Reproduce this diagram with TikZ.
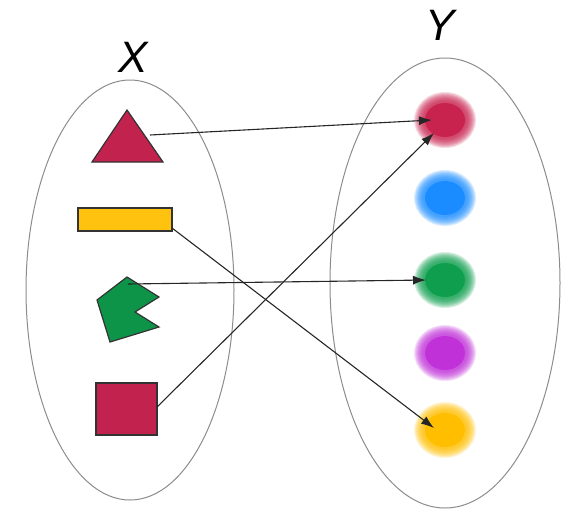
\documentclass[tikz,border=0pt]{standalone}
\usepackage{fontspec}
\setmainfont{Liberation Sans}
\usetikzlibrary{arrows.meta}
\definecolor{crim}{HTML}{C2224E}
\definecolor{gold}{HTML}{FFC20E}
\definecolor{grn}{HTML}{0E9448}
\definecolor{dotred}{HTML}{C8234F}
\definecolor{dotblue}{HTML}{1A8CFF}
\definecolor{dotgreen}{HTML}{0E9E4E}
\definecolor{dotpurple}{HTML}{C032D8}
\definecolor{dotyellow}{HTML}{FFBE00}
\tikzset{
  setline/.style={draw=black!45, line width=1pt},
  shapeline/.style={draw=black!80, line width=1.2pt},
  mapline/.style={draw=black!85, line width=1.1pt, -{Latex[length=13pt,width=9pt]}},
  lbl/.style={font=\itshape\fontsize{44}{44}\selectfont, inner sep=0pt}
}
\newcommand{\blurdot}[3]{%
  \foreach \r in {0,1,...,9}{%
    \fill[#3, opacity=0.16] (#1,#2) ellipse [x radius={31-\r}, y radius={28-\r}];
  }
  \fill[#3] (#1,#2) ellipse [x radius=20pt, y radius=17pt];
}
\begin{document}
\begin{tikzpicture}[x=1pt,y=-1pt]
\useasboundingbox (0,0) rectangle (567,512);
% sets
\draw[setline] (130,290) ellipse [x radius=104, y radius=210];
\draw[setline] (445,283) ellipse [x radius=115, y radius=225];
\node[lbl] (X) at (133,57) {X};
\node[lbl] (Y) at (440,25) {Y};
% X shapes
\filldraw[fill=crim, shapeline] (127,110) -- (163,162) -- (92,162) -- cycle;
\filldraw[fill=gold, shapeline] (78,208) rectangle (172,231);
\filldraw[fill=grn, shapeline] (127,277) -- (159,297) -- (135,312) -- (159,327) -- (110,342) -- (97,300) -- cycle;
\filldraw[fill=crim, shapeline] (96,383) rectangle (157,435);
% Y dots
\blurdot{445}{120}{dotred}
\blurdot{445}{198}{dotblue}
\blurdot{445}{280}{dotgreen}
\blurdot{445}{353}{dotpurple}
\blurdot{445}{430}{dotyellow}
% endpoints
\coordinate (tri) at (150,135);
\coordinate (bar) at (172,228);
\coordinate (pac) at (128,284);
\coordinate (sq) at (157,407);
\coordinate (yred1) at (432,120);
\coordinate (yred2) at (434,133);
\coordinate (ygreen) at (426,280);
\coordinate (yyellow) at (434,428);
% maps
\draw[mapline] (tri) -- (yred1);
\draw[mapline] (bar) -- (yyellow);
\draw[mapline] (pac) -- (ygreen);
\draw[mapline] (sq) -- (yred2);
\end{tikzpicture}
\end{document}
